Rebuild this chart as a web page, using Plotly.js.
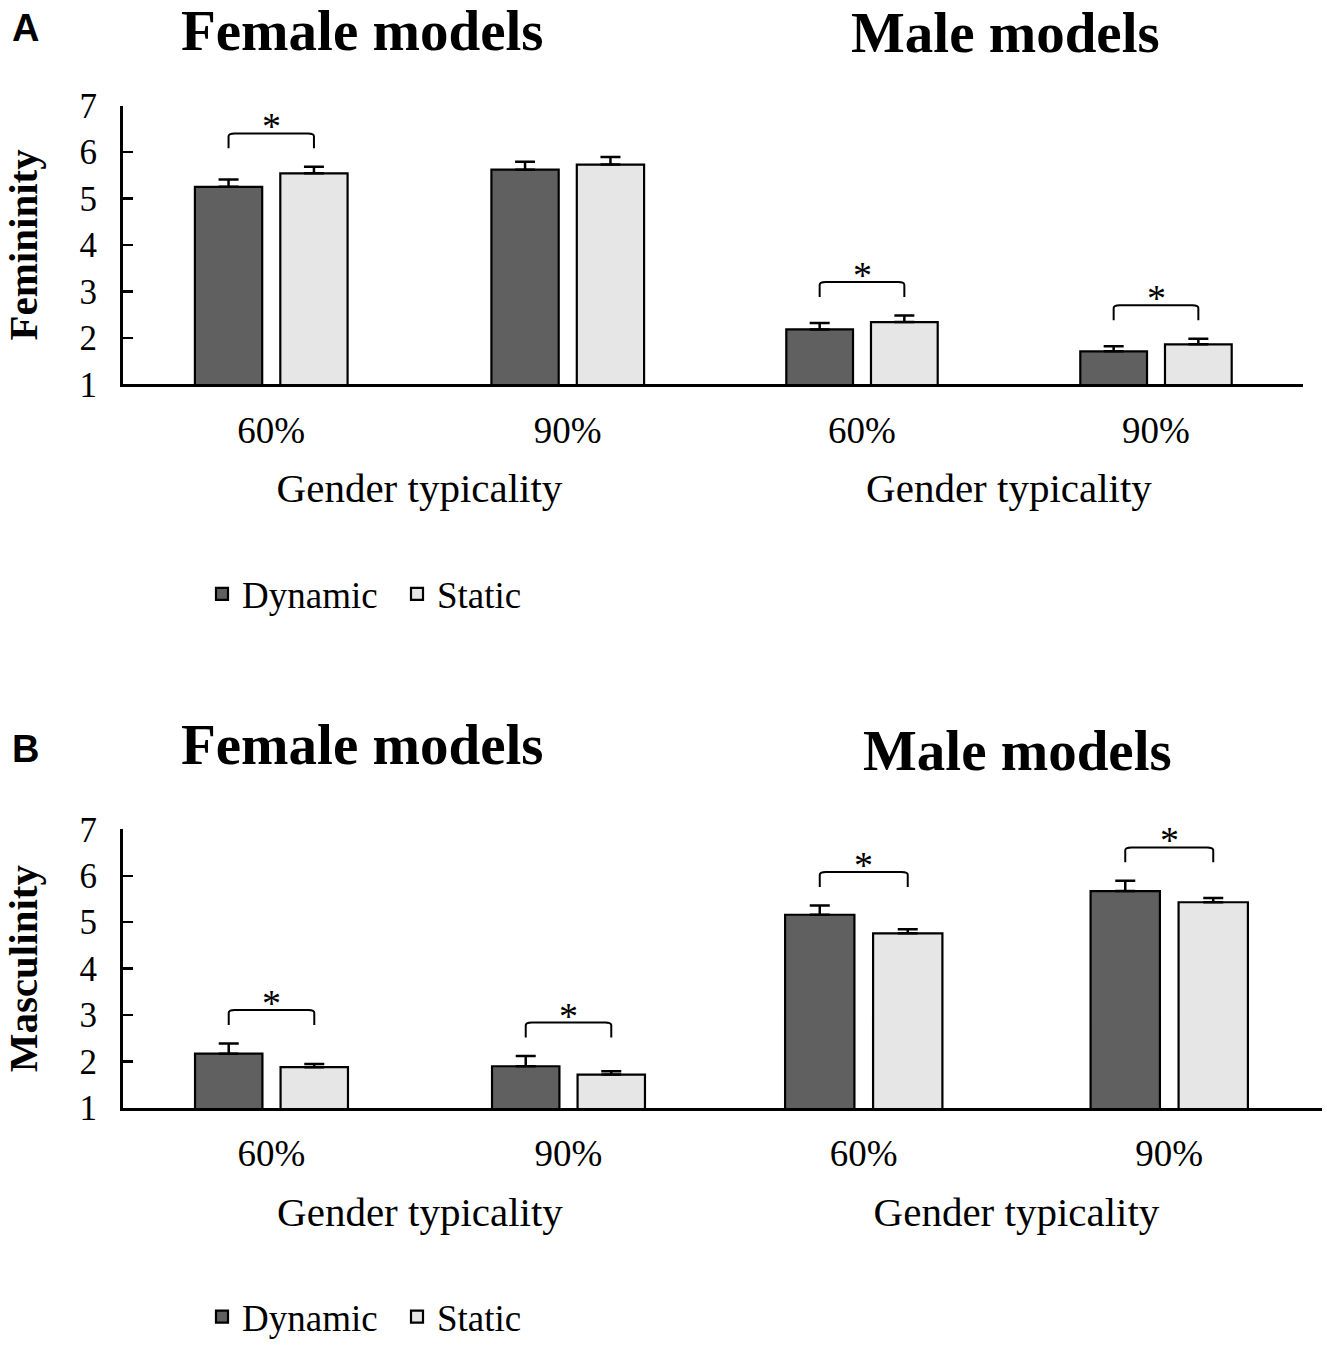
<!DOCTYPE html>
<html><head>
<meta charset="utf-8"/>
<script src="https://cdn.plot.ly/plotly-3.0.1.min.js"></script>
<style>
  * { margin: 0px; padding: 0px }
  #chart { width: 1327px; height: 1348px }
</style>
</head><body>
<div id="chart"></div>
<script>
// categories
var typicality = ['60%', '90%'];
var tickPos = [0, 1];

// A: femininity ratings
var femFemDyn = [5.25, 5.62];
var femFemDynErr = [0.16, 0.17];
var femFemSta = [5.54, 5.73];
var femFemStaErr = [0.14, 0.16];
var femMaleDyn = [2.18, 1.71];
var femMaleDynErr = [0.14, 0.11];
var femMaleSta = [2.34, 1.86];
var femMaleStaErr = [0.14, 0.12];

// B: masculinity ratings
var masFemDyn = [2.17, 1.90];
var masFemDynErr = [0.22, 0.22];
var masFemSta = [1.88, 1.72];
var masFemStaErr = [0.07, 0.07];
var masMaleDyn = [5.16, 5.67];
var masMaleDynErr = [0.20, 0.22];
var masMaleSta = [4.76, 5.43];
var masMaleStaErr = [0.09, 0.09];

// significant dynamic vs static differences
var sigFemFem = [true, false];
var sigFemMale = [true, true];
var sigMasFem = [true, true];
var sigMasMale = [true, true];

var DARK = '#606060', LIGHT = '#e6e6e6';
var SERIF = 'Liberation Serif, Times New Roman, serif';
var BARGAP = 0.424, GROUPGAP = 0.212;

function bar(name, y, err, color, xa, ya, legend, show){
    return {
        type: 'bar', name: name, x: tickPos, y: y,
        xaxis: xa, yaxis: ya, legend: legend, showlegend: show,
        marker: {color: color, line: {color: '#000', width: 2.2}},
        error_y: {type: 'data', symmetric: false, array: err,
                  arrayminus: err.map(function(){ return 0; }),
                  color: '#000', thickness: 2.5, width: 10},
        hoverinfo: 'skip'
    };
}

var traces = [
    bar('Dynamic', femFemDyn, femFemDynErr, DARK, 'x', 'y', 'legend', true),
    bar('Static', femFemSta, femFemStaErr, LIGHT, 'x', 'y', 'legend', true),
    bar('Dynamic', femMaleDyn, femMaleDynErr, DARK, 'x2', 'y2', 'legend', false),
    bar('Static', femMaleSta, femMaleStaErr, LIGHT, 'x2', 'y2', 'legend', false),
    bar('Dynamic', masFemDyn, masFemDynErr, DARK, 'x3', 'y3', 'legend2', true),
    bar('Static', masFemSta, masFemStaErr, LIGHT, 'x3', 'y3', 'legend2', true),
    bar('Dynamic', masMaleDyn, masMaleDynErr, DARK, 'x4', 'y4', 'legend2', false),
    bar('Static', masMaleSta, masMaleStaErr, LIGHT, 'x4', 'y4', 'legend2', false)
];

// brackets with asterisks over significant pairs
var shapes = [], annotations = [];
var half = (1 - BARGAP) / 4;
function brackets(sig, dyn, dynErr, sta, staErr, xa, ya){
    for(var i = 0; i < sig.length; i++){
        if(!sig[i]) continue;
        var top = Math.max(dyn[i] + dynErr[i], sta[i] + staErr[i]);
        var foot = top + 0.4, head = foot + 0.32;
        var x0 = tickPos[i] - half, x1 = tickPos[i] + half;
        shapes.push({
            type: 'path', xref: xa, yref: ya,
            path: 'M' + x0 + ',' + foot + ' L' + x0 + ',' + (head - 0.06) +
                  ' Q' + x0 + ',' + head + ' ' + (x0 + 0.02) + ',' + head +
                  ' L' + (x1 - 0.02) + ',' + head +
                  ' Q' + x1 + ',' + head + ' ' + x1 + ',' + (head - 0.06) +
                  ' L' + x1 + ',' + foot,
            line: {color: '#000', width: 2}
        });
        annotations.push({
            xref: xa, yref: ya, x: tickPos[i], y: head, text: '*',
            showarrow: false, yanchor: 'bottom', yshift: -16,
            font: {family: SERIF, size: 38, color: '#000'}
        });
    }
}
brackets(sigFemFem, femFemDyn, femFemDynErr, femFemSta, femFemStaErr, 'x', 'y');
brackets(sigFemMale, femMaleDyn, femMaleDynErr, femMaleSta, femMaleStaErr, 'x2', 'y2');
brackets(sigMasFem, masFemDyn, masFemDynErr, masFemSta, masFemStaErr, 'x3', 'y3');
brackets(sigMasMale, masMaleDyn, masMaleDynErr, masMaleSta, masMaleStaErr, 'x4', 'y4');

function label(text, x, y, size, bold, family){
    annotations.push({
        xref: 'paper', yref: 'paper', x: x, y: y, text: bold ? '<b>' + text + '</b>' : text,
        showarrow: false, xanchor: 'center', yanchor: 'middle',
        font: {family: family || SERIF, size: size, color: '#000'}
    });
}
label('A', 25 / 1327, 1 - 28 / 1348, 38, true, 'Liberation Sans, Arial, sans-serif');
label('B', 25 / 1327, 1 - 752 / 1348, 38, true, 'Liberation Sans, Arial, sans-serif');
label('Female models', 362 / 1327, 1 - 31 / 1348, 57, true);
label('Male models', 1005 / 1327, 1 - 33 / 1348, 57, true);
label('Female models', 362 / 1327, 1 - 748 / 1348, 57, true);
label('Male models', 1017 / 1327, 1 - 754 / 1348, 57, true);

function xax(domain, anchor){
    return {
        domain: domain, anchor: anchor, range: [-0.5, 1.5],
        tickvals: tickPos, ticktext: typicality, ticks: '',
        showline: true, linecolor: '#000', linewidth: 3,
        showgrid: false, zeroline: false, fixedrange: true,
        ticklabelstandoff: 11,
        tickfont: {family: SERIF, size: 37, color: '#000'},
        title: {text: 'Gender typicality', standoff: 24,
                font: {family: SERIF, size: 41, color: '#000'}}
    };
}
function yax(domain, anchor, title){
    var a = {
        domain: domain, anchor: anchor, range: [1, 7],
        tickvals: [1, 2, 3, 4, 5, 6, 7], showgrid: false, zeroline: false,
        fixedrange: true
    };
    if(title){
        a.showline = true; a.linecolor = '#000'; a.linewidth = 3;
        a.ticks = 'inside'; a.ticklen = 10; a.tickwidth = 2.5; a.tickcolor = '#000';
        a.ticklabelstandoff = 16;
        a.tickfont = {family: SERIF, size: 35, color: '#000'};
        a.title = {text: '<b>' + title + '</b>', standoff: 30,
                   font: {family: SERIF, size: 41, color: '#000'}};
    } else {
        a.visible = false;
    }
    return a;
}

var topY = [1 - 386 / 1348, 1 - 106 / 1348];
var botY = [1 - 1113 / 1348, 1 - 833 / 1348];

var layout = {
    width: 1327, height: 1348,
    margin: {l: 0, r: 0, t: 0, b: 0},
    paper_bgcolor: '#fff', plot_bgcolor: 'rgba(0,0,0,0)',
    barmode: 'group', bargap: BARGAP, bargroupgap: GROUPGAP,
    xaxis: xax([123 / 1327, 716 / 1327], 'y'),
    xaxis2: xax([715 / 1327, 1303 / 1327], 'y2'),
    xaxis3: xax([123 / 1327, 717 / 1327], 'y3'),
    xaxis4: xax([711 / 1327, 1322 / 1327], 'y4'),
    yaxis: yax(topY, 'x', 'Femininity'),
    yaxis2: yax(topY, 'x2'),
    yaxis3: yax(botY, 'x3', 'Masculinity'),
    yaxis4: yax(botY, 'x4'),
    legend: {orientation: 'h', x: 202 / 1327, y: 1 - 597 / 1348,
             xanchor: 'left', yanchor: 'middle', traceorder: 'normal',
             entrywidth: 150,
             font: {family: SERIF, size: 37, color: '#000'}},
    legend2: {orientation: 'h', x: 202 / 1327, y: 1 - 1323 / 1348,
              xanchor: 'left', yanchor: 'middle', traceorder: 'normal',
              entrywidth: 150,
              font: {family: SERIF, size: 37, color: '#000'}},
    shapes: shapes,
    annotations: annotations
};

Plotly.newPlot('chart', traces, layout, {displayModeBar: false, staticPlot: true});
</script>
</body></html>
